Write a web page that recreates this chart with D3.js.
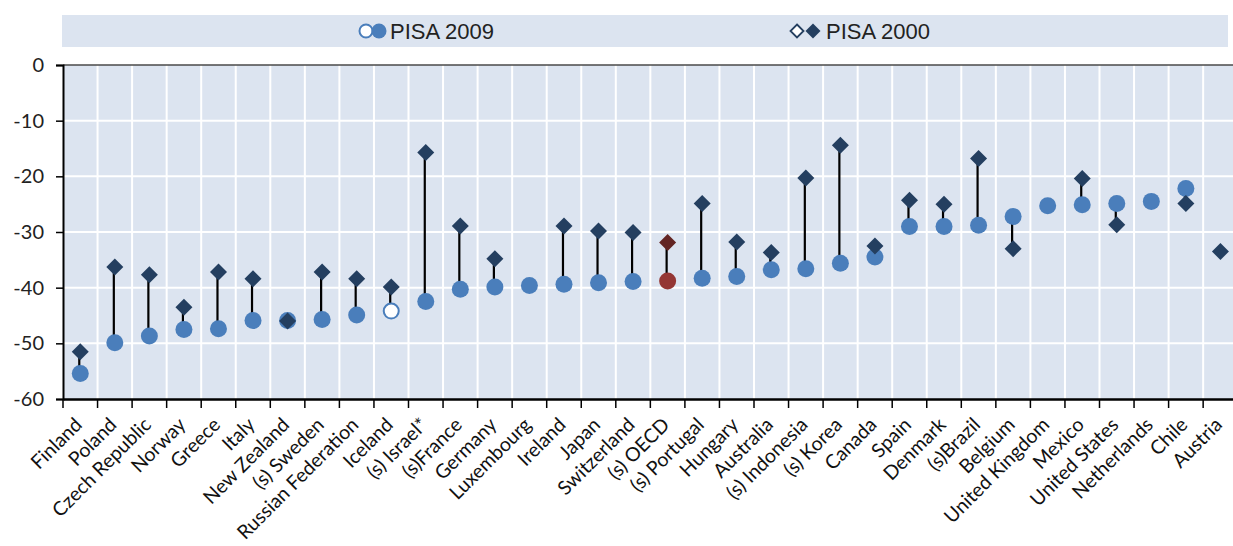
<!DOCTYPE html>
<html><head><meta charset="utf-8">
<script src="https://cdn.jsdelivr.net/npm/d3@7"></script>
<style>body{margin:0;background:#fff}svg{display:block}</style>
</head><body>
<svg id="c" width="1233" height="546"></svg>
<script>
const categories = ["Finland","Poland","Czech Republic","Norway","Greece","Italy","New Zealand","(s) Sweden","Russian Federation","Iceland","(s) Israel*","(s)France","Germany","Luxembourg","Ireland","Japan","Switzerland","(s) OECD","(s) Portugal","Hungary","Australia","(s) Indonesia","(s) Korea","Canada","Spain","Denmark","(s)Brazil","Belgium","United Kingdom","Mexico","United States","Netherlands","Chile","Austria"];
const pisa2009 = [-55.4,-49.9,-48.7,-47.5,-47.4,-45.9,-45.9,-45.7,-44.9,-44.2,-42.5,-40.3,-39.9,-39.6,-39.4,-39.1,-38.9,-38.8,-38.3,-38.0,-36.8,-36.6,-35.6,-34.5,-29.0,-29.0,-28.8,-27.2,-25.3,-25.1,-24.9,-24.5,-22.2,null];
const pisa2000 = [-51.5,-36.3,-37.7,-43.5,-37.2,-38.4,-46.0,-37.2,-38.4,-39.9,-15.7,-28.9,-34.8,null,-28.9,-29.8,-30.1,-31.9,-24.9,-31.8,-33.7,-20.3,-14.4,-32.5,-24.3,-25.0,-16.8,-33.0,null,-20.4,-28.7,null,-24.9,-33.5];
const hollow2009 = ["Iceland"];
const highlight = ["(s) OECD"];
const yTicks = [0,-10,-20,-30,-40,-50,-60];
const seriesNames = ["PISA 2009","PISA 2000"];

const svg = d3.select("#c");
const L = 63, T = 65, B = 399, band = 34.55;
const x = d3.scaleBand().domain(categories).range([L, L + band*categories.length]).padding(0);
const y = d3.scaleLinear().domain([-60,0]).range([B,T]);

const bg = "#dce4f0";
svg.append("rect").attr("x",62).attr("y",15).attr("width",1166).attr("height",32).attr("fill",bg);
svg.append("rect").attr("x",L).attr("y",T).attr("width",1233-L).attr("height",B-T).attr("fill",bg);

const g = svg.append("g");
g.selectAll("line.h").data(yTicks.filter(d=>d!==-60 && d!==0)).enter().append("line")
  .attr("x1",L).attr("x2",1233).attr("y1",d=>y(d)).attr("y2",d=>y(d))
  .attr("stroke","#fff").attr("stroke-width",2);
g.selectAll("line.v").data(categories.slice(1)).enter().append("line")
  .attr("x1",d=>x(d)).attr("x2",d=>x(d)).attr("y1",T).attr("y2",B)
  .attr("stroke","#fff").attr("stroke-width",2);

svg.append("line").attr("x1",L).attr("x2",1233).attr("y1",T).attr("y2",T).attr("stroke","#4a4a4a").attr("stroke-width",1.5);

const yAxis = d3.axisLeft(y).tickValues(yTicks).tickSize(7).tickPadding(12).tickFormat(d => String(d));
const ya = svg.append("g").attr("transform",`translate(${L},0)`).call(yAxis);
ya.select(".domain").attr("stroke","#000").attr("stroke-width",2);
ya.selectAll(".tick line").attr("stroke","#000").attr("stroke-width",1.5);
ya.selectAll("text").attr("font-family","Lato, 'Liberation Sans', sans-serif").attr("font-size",20).attr("fill","#222");

const xa = svg.append("g").attr("transform",`translate(0,${B})`)
  .call(d3.axisBottom(x).tickSize(0).tickFormat(""));
xa.select(".domain").attr("stroke","#000").attr("stroke-width",2.5);
svg.append("g").selectAll("line").data(categories).enter().append("line")
  .attr("x1",d=>x(d)).attr("x2",d=>x(d)).attr("y1",B).attr("y2",B+9)
  .attr("stroke","#000").attr("stroke-width",1.5);

svg.append("g").selectAll("text").data(categories).enter().append("text")
  .attr("transform",d=>`translate(${x(d)+x.bandwidth()/2+3},${B+27}) rotate(-45)`)
  .attr("text-anchor","end")
  .attr("font-family","Lato, 'Open Sans', sans-serif").attr("font-size",19.5).attr("fill","#111")
  .text(d=>d);

const rows = categories.map((c,i)=>({c, v09:pisa2009[i], v00:pisa2000[i]}));
const cx = d => x(d.c) + x.bandwidth()/2;
const diamond = h => `M0,${-h}L${h},0L0,${h}L${-h},0Z`;

svg.append("g").selectAll("line").data(rows.filter(d=>d.v09!=null && d.v00!=null)).enter().append("line")
  .attr("x1",d=>cx(d)-1).attr("x2",d=>cx(d)-1).attr("y1",d=>y(d.v00)).attr("y2",d=>y(d.v09))
  .attr("stroke","#000").attr("stroke-width",2.2);

svg.append("g").selectAll("circle").data(rows.filter(d=>d.v09!=null)).enter().append("circle")
  .attr("cx",cx).attr("cy",d=>y(d.v09)).attr("r",d=>hollow2009.includes(d.c)?7.5:8.5)
  .attr("fill",d=>hollow2009.includes(d.c)?"#fff":highlight.includes(d.c)?"#943634":"#4a7ebb")
  .attr("stroke",d=>hollow2009.includes(d.c)?"#4a7ebb":"none").attr("stroke-width",2);

svg.append("g").selectAll("path").data(rows.filter(d=>d.v00!=null)).enter().append("path")
  .attr("transform",d=>`translate(${cx(d)},${y(d.v00)})`).attr("d",diamond(8.5))
  .attr("fill",d=>highlight.includes(d.c)?"#632523":"#243f60");

const lg = svg.append("g");
lg.append("circle").attr("cx",366).attr("cy",31).attr("r",6.5).attr("fill","#fff").attr("stroke","#4a7ebb").attr("stroke-width",2);
lg.append("circle").attr("cx",379).attr("cy",31).attr("r",7.5).attr("fill","#4a7ebb");
lg.append("text").attr("x",390).attr("y",31).attr("dy","0.36em").attr("font-family","'Liberation Sans', Arial, sans-serif").attr("font-size",22).attr("fill","#222").text(seriesNames[0]);
lg.append("path").attr("transform","translate(797,31)").attr("d",diamond(6.5)).attr("fill","#fff").attr("stroke","#243f60").attr("stroke-width",1.8);
lg.append("path").attr("transform","translate(813,31)").attr("d",diamond(7.5)).attr("fill","#243f60");
lg.append("text").attr("x",826).attr("y",31).attr("dy","0.36em").attr("font-family","'Liberation Sans', Arial, sans-serif").attr("font-size",22).attr("fill","#222").text(seriesNames[1]);
</script>
</body></html>
